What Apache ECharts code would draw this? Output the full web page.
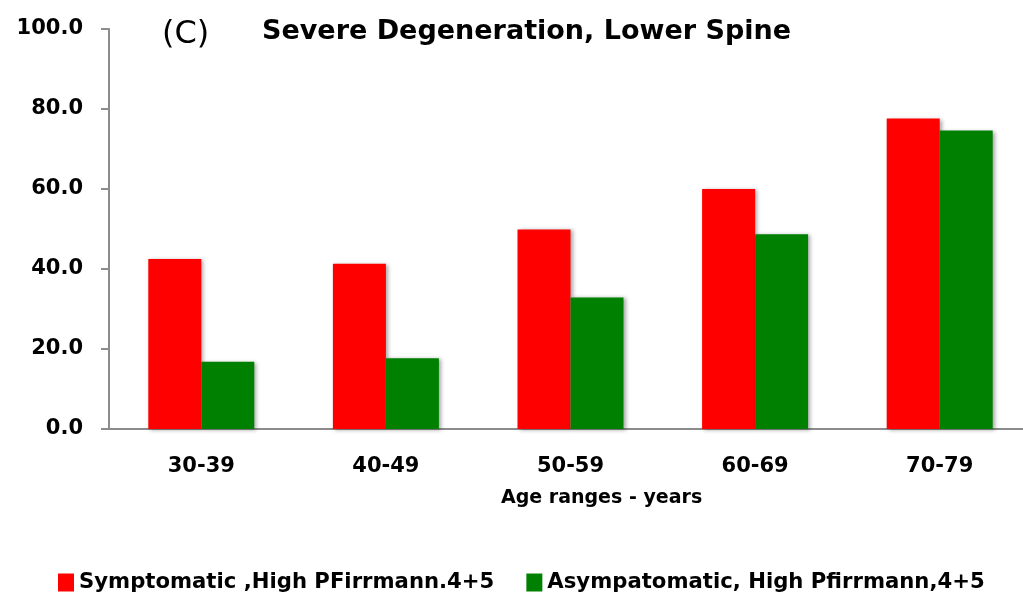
<!DOCTYPE html>
<html>
<head>
<meta charset="utf-8">
<script src="https://cdn.jsdelivr.net/npm/echarts@6/dist/echarts.min.js"></script>
<style>
  html, body { margin: 0; padding: 0; background: #fff; }
  #chart { width: 1023px; height: 596px; }
</style>
</head>
<body>
<div id="chart"></div>
<script>
// Data
const ageRanges = ['30-39', '40-49', '50-59', '60-69', '70-79'];
const symptomatic = [42.5, 41.3, 49.9, 60.0, 77.6];
const asymptomatic = [16.8, 17.7, 32.9, 48.7, 74.6];
const seriesNames = ['Symptomatic ,High PFirrmann.4+5', 'Asympatomatic, High Pfirrmann,4+5'];

const font = 'DejaVu Sans';
const axisGray = '#8c8c8c';
const barShadow = {
    shadowColor: 'rgba(0, 0, 0, 0.35)',
    shadowBlur: 4,
    shadowOffsetX: 2,
    shadowOffsetY: 1
};

const chart = echarts.init(document.getElementById('chart'));
chart.setOption({
    animation: false,
    color: ['#ff0000', '#008000'],
    textStyle: { fontFamily: font },
    // the plot runs a little past the right edge of the picture
    grid: { left: 109, width: 923, top: 29, bottom: 167, outerBoundsMode: 'none', containLabel: false },
    legend: {
        left: 53,
        top: 567,
        itemWidth: 16,
        itemHeight: 18,
        itemGap: 32,
        icon: 'rect',
        textStyle: { fontFamily: font, fontWeight: 'bold', fontSize: 21.2, color: '#000' },
        data: seriesNames
    },
    graphic: [
        {
            type: 'text',
            left: 162,
            top: 19,
            style: { text: '(C)', font: 'normal 32px "DejaVu Sans"', fill: '#000' }
        },
        {
            type: 'text',
            left: 262,
            top: 18,
            style: { text: 'Severe Degeneration, Lower Spine', font: 'bold 27px "DejaVu Sans"', fill: '#000' }
        },
        {
            type: 'text',
            left: 501,
            top: 489,
            style: { text: 'Age ranges - years', font: 'bold 19px "DejaVu Sans"', fill: '#000' }
        }
    ],
    xAxis: {
        type: 'category',
        data: ageRanges,
        axisLine: { lineStyle: { color: axisGray, width: 2 } },
        axisTick: { length: 10, lineStyle: { color: axisGray, width: 2 } },
        axisLabel: { margin: 27, fontFamily: font, fontWeight: 'bold', fontSize: 21, color: '#000' }
    },
    yAxis: {
        type: 'value',
        min: 0,
        max: 100,
        interval: 20,
        axisLine: { show: true, lineStyle: { color: axisGray, width: 2 } },
        axisTick: { show: true, length: 8, lineStyle: { color: axisGray, width: 2 } },
        splitLine: { show: false },
        axisLabel: {
            margin: 26,
            fontFamily: font,
            fontWeight: 'bold',
            fontSize: 21,
            color: '#000',
            formatter: function (v) { return v.toFixed(1); }
        }
    },
    series: [
        {
            name: seriesNames[0],
            type: 'bar',
            barWidth: 53,
            barGap: '0%',
            itemStyle: barShadow,
            data: symptomatic
        },
        {
            name: seriesNames[1],
            type: 'bar',
            barWidth: 53,
            barGap: '0%',
            itemStyle: barShadow,
            data: asymptomatic
        }
    ]
});
</script>
</body>
</html>
